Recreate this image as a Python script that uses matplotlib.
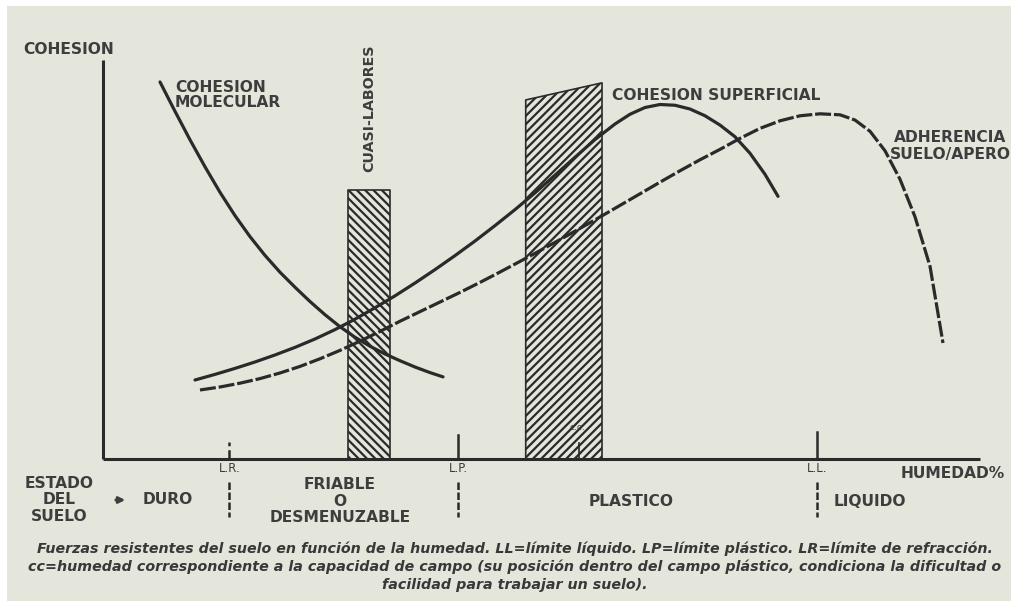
import matplotlib
matplotlib.use("Agg")
import matplotlib.pyplot as plt
from matplotlib.patches import Rectangle

# Curvas: humedad (eje x, 0-100) y cohesion (eje y, 0-100)
mol_hum = [6.50, 8.21, 9.92, 11.63, 13.34, 15.05, 16.76, 18.47, 20.18, 21.89,
           23.60, 25.31, 27.02, 28.73, 30.44, 32.16, 33.87, 35.58, 37.29, 38.77]
mol_coh = [96.92, 89.38, 82.06, 75.12, 68.56, 62.57, 57.17, 52.34, 48.02, 44.16,
           40.49, 37.10, 34.01, 31.31, 29.00, 26.99, 25.26, 23.64, 22.21, 21.11]

sup_hum = [10.49, 12.77, 15.05, 17.33, 19.61, 21.89, 24.17, 26.45, 28.73, 31.01,
           33.30, 35.58, 37.86, 40.14, 42.42, 44.70, 46.98, 49.26, 51.54, 53.82,
           56.10, 58.38, 60.09, 61.80, 63.51, 65.22, 66.93, 68.64, 70.35, 72.06,
           73.77, 75.48, 76.97]
sup_coh = [20.31, 21.75, 23.29, 24.94, 26.74, 28.69, 30.85, 33.26, 35.94, 38.87,
           41.95, 45.24, 48.69, 52.29, 56.04, 60.00, 64.11, 68.43, 72.96, 77.58,
           82.11, 86.12, 88.62, 90.36, 91.13, 90.94, 89.97, 88.24, 85.85, 82.84,
           78.60, 73.20, 67.52]

adh_hum = [11.06, 13.34, 15.62, 17.90, 20.18, 22.46, 24.74, 27.02, 29.30, 31.58,
           33.87, 36.15, 38.43, 40.71, 42.99, 45.27, 47.55, 49.83, 52.11, 54.39,
           56.67, 58.95, 61.23, 63.51, 65.79, 68.07, 70.35, 72.63, 74.91, 77.20,
           79.48, 81.76, 84.04, 85.75, 87.46, 89.17, 90.88, 92.59, 94.30, 95.78]
adh_coh = [17.74, 18.51, 19.49, 20.67, 22.11, 23.80, 25.76, 27.92, 30.28, 32.80,
           35.42, 37.89, 40.36, 42.83, 45.40, 48.07, 50.80, 53.57, 56.40, 59.28,
           62.21, 65.19, 68.17, 71.16, 74.09, 76.92, 79.59, 82.42, 84.99, 86.94,
           88.23, 88.74, 88.48, 87.13, 84.24, 79.23, 71.90, 62.26, 49.54, 29.82]

# franjas rayadas
cuasi_hum = [27.9, 32.7]
cuasi_top = [69.2, 69.2]
plast_hum = [48.2, 56.9]
plast_top = [92.3, 96.7]
cc_hum = 54.3

# limites de consistencia
lim_names = ["L.R.", "L.P.", "L.L."]
lim_hum = [14.4, 40.5, 81.4]
lim_top = [4.4, 6.2, 6.9]

W, H = 1011, 601
ink = "#2a2a2a"
txt = "#3d3d3d"
bg = "#e4e6dc"

# origen del grafico en pixeles y escala
ox, oy = 103, 459
sx, sy = 8.77, 3.89


def px(x, y):
    return x / W, 1 - y / H


plt.rcParams["hatch.linewidth"] = 1.6
fig = plt.figure(figsize=(W / 100, H / 100), dpi=100, facecolor=bg)
fig.patches.append(Rectangle((0, 1 - 6 / H), 1, 6 / H, transform=fig.transFigure,
                             facecolor="white", edgecolor="none"))
fig.patches.append(Rectangle((0, 0), 7 / W, 1, transform=fig.transFigure,
                             facecolor="white", edgecolor="none"))

ax = fig.add_axes([0, 0, 1, 1])
ax.set_xlim(-ox / sx, (W - ox) / sx)
ax.set_ylim((oy - H) / sy, oy / sy)
ax.axis("off")

# ejes
ax.plot([0, 0], [0, 102.6], color=ink, lw=2.2, solid_capstyle="butt")
ax.plot([0, 100], [0, 0], color=ink, lw=2.2, solid_capstyle="butt")

# franjas
ax.fill_between(cuasi_hum, 0, cuasi_top, facecolor="none", edgecolor=ink,
                hatch="\\" * 4, lw=1.2, zorder=1)
ax.fill_between(plast_hum, 0, plast_top, facecolor="none", edgecolor=ink,
                hatch="/" * 4, lw=1.2, zorder=1)

# curvas
ax.plot(mol_hum, mol_coh, color=ink, lw=2.3, solid_capstyle="round", zorder=3)
ax.plot(sup_hum, sup_coh, color=ink, lw=2.3, solid_capstyle="round", zorder=3)
ax.plot(adh_hum, adh_coh, color=ink, lw=2.3, ls=(0, (5, 0.9)), zorder=3)

# marcas de limites
for name, x, top in zip(lim_names, lim_hum, lim_top):
    ls = "--" if name == "L.R." else "-"
    ax.plot([x, x], [0, top], color=ink, lw=1.8, ls=ls)
    ax.plot([x, x], [-6.0, -15.0], color=ink, lw=1.8, ls=(0, (3, 1)))
    fig.text(*px(ox + x * sx, 468), name, ha="center", va="center",
             fontsize=8.5, color=txt)

ax.plot([cc_hum, cc_hum], [0, 4.1], color=ink, lw=1.2, zorder=3)
fig.text(*px(577, 428), "c.c.", ha="center", va="center", fontsize=6.5, color=txt)

lab = dict(fontsize=11.2, fontweight="bold", color=txt, va="center")
fig.text(*px(69, 50), "COHESION", ha="center", **lab)
fig.text(*px(175, 95), "COHESION\nMOLECULAR", ha="left", linespacing=1.05, **lab)
fig.text(*px(612, 96), "COHESION SUPERFICIAL", ha="left", **lab)
fig.text(*px(950, 146), "ADHERENCIA\nSUELO/APERO", ha="center", linespacing=1.1, **lab)
fig.text(*px(369, 108), "CUASI-LABORES", ha="center", rotation=90,
         fontsize=10.3, fontweight="bold", color=txt, va="center")
fig.text(*px(953, 473), "HUMEDAD%", ha="center", **lab)

fig.text(*px(59, 500), "ESTADO\nDEL\nSUELO", ha="center", linespacing=1.1, **lab)
ax.annotate("", xy=px(128, 500), xytext=px(113, 500), xycoords="figure fraction",
            arrowprops=dict(arrowstyle="-|>", color=txt, lw=2, mutation_scale=9))
fig.text(*px(168, 500), "DURO", ha="center", **lab)
fig.text(*px(340, 501), "FRIABLE\nO\nDESMENUZABLE", ha="center", linespacing=1.1, **lab)
fig.text(*px(631, 501), "PLASTICO", ha="center", **lab)
fig.text(*px(870, 501), "LIQUIDO", ha="center", **lab)

cap = dict(fontsize=10.3, style="italic", fontweight="bold", color="#383838",
           ha="center", va="center")
fig.text(*px(515, 549), "Fuerzas resistentes del suelo en función de la humedad. "
         "LL=límite líquido. LP=límite plástico. LR=límite de refracción.", **cap)
fig.text(*px(515, 567), "cc=humedad correspondiente a la capacidad de campo (su posición "
         "dentro del campo plástico, condiciona la dificultad o", **cap)
fig.text(*px(515, 585), "facilidad para trabajar un suelo).", **cap)

fig.savefig("out.png", dpi=100, facecolor=bg)
